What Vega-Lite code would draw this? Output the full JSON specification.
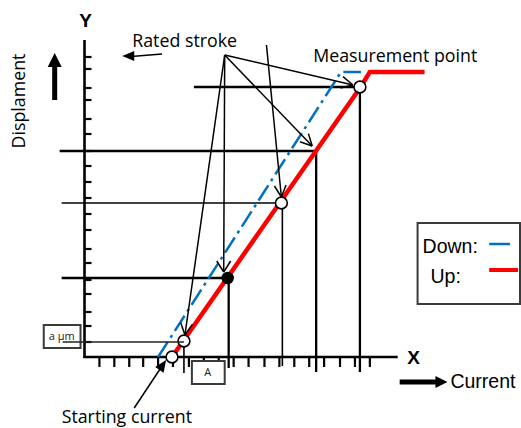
{
  "$schema": "https://vega.github.io/schema/vega-lite/v6.json",
  "width": 521,
  "height": 428,
  "autosize": {"type": "fit", "contains": "padding"},
  "padding": 0,
  "background": "white",
  "config": {"view": {"stroke": null}},
  "datasets": {
    "axes": [{"x": 85, "y": 40, "x2": 85, "y2": 358}, {"x": 84, "y": 357, "x2": 400, "y2": 357}],
    "yticks": [{"y": 57}, {"y": 69}, {"y": 88}, {"y": 100}, {"y": 119}, {"y": 134}, {"y": 151}, {"y": 166}, {"y": 182}, {"y": 198}, {"y": 214}, {"y": 230}, {"y": 249}, {"y": 263}, {"y": 280}, {"y": 294}, {"y": 312}, {"y": 326}, {"y": 342}],
    "xticks": [{"x": 100}, {"x": 115}, {"x": 130}, {"x": 144}, {"x": 159}, {"x": 174}, {"x": 190}, {"x": 205}, {"x": 220}, {"x": 235}, {"x": 250}, {"x": 266}, {"x": 281}, {"x": 296}, {"x": 311}, {"x": 326}, {"x": 342}, {"x": 357}, {"x": 372}],
    "guidesThick": [
      {"x": 195, "y": 87, "x2": 356, "y2": 87},
      {"x": 60, "y": 151, "x2": 318, "y2": 151},
      {"x": 62, "y": 278, "x2": 229, "y2": 278},
      {"x": 230, "y": 278, "x2": 230, "y2": 368},
      {"x": 318, "y": 151, "x2": 318, "y2": 372},
      {"x": 362, "y": 88, "x2": 362, "y2": 372}
    ],
    "guidesThin": [
      {"x": 62, "y": 203, "x2": 283, "y2": 203},
      {"x": 185, "y": 341, "x2": 185, "y2": 373},
      {"x": 284, "y": 203, "x2": 284, "y2": 366}
    ],
    "pointers": [
      {"x": 226, "y": 55, "x2": 186, "y2": 335}, {"x": 186, "y": 335, "x2": 193.5, "y2": 324.4}, {"x": 186, "y": 335, "x2": 181.8, "y2": 322.7},
      {"x": 226, "y": 55, "x2": 225, "y2": 272}, {"x": 225, "y": 272, "x2": 232, "y2": 261}, {"x": 225, "y": 272, "x2": 218, "y2": 261},
      {"x": 226, "y": 55, "x2": 314, "y2": 146}, {"x": 314, "y": 146, "x2": 310.2, "y2": 133.6}, {"x": 314, "y": 146, "x2": 301.7, "y2": 141.8},
      {"x": 226, "y": 55, "x2": 355, "y2": 85}, {"x": 355, "y": 85, "x2": 345, "y2": 76.6}, {"x": 355, "y": 85, "x2": 342.4, "y2": 88.1},
      {"x": 268, "y": 45, "x2": 283, "y2": 197}, {"x": 283, "y": 197, "x2": 287.7, "y2": 184.9}, {"x": 283, "y": 197, "x2": 276, "y2": 186},
      {"x": 163, "y": 54, "x2": 132, "y2": 56.5},
      {"x": 135, "y": 408, "x2": 163, "y2": 366}
    ],
    "shafts": [{"x": 55, "y": 100, "x2": 55, "y2": 64}, {"x": 402, "y": 382, "x2": 440, "y2": 382}],
    "up": [{"t": 0, "x": 173, "y": 357}, {"t": 1, "x": 362, "y": 88}, {"t": 2, "x": 372, "y": 72}, {"t": 3, "x": 427, "y": 72}],
    "down": [{"t": 0, "x": 159, "y": 357}, {"t": 1, "x": 343, "y": 72}, {"t": 2, "x": 363, "y": 72}],
    "openPts": [{"x": 362, "y": 87}, {"x": 283, "y": 203}, {"x": 185, "y": 341}, {"x": 173, "y": 357}],
    "filledPts": [{"x": 229, "y": 278}],
    "boxes": [{"x": 44, "y": 325, "x2": 81, "y2": 348}, {"x": 193, "y": 361, "x2": 226, "y2": 384}, {"x": 420, "y": 223, "x2": 523, "y2": 304}]
  },
  "layer": [
    {"data": {"name": "axes"}, "mark": {"type": "rule", "strokeWidth": 2.6, "color": "black"},
     "encoding": {"x": {"field": "x", "type": "quantitative", "scale": {"domain": [0, 521], "nice": false, "zero": false}, "axis": null},
                  "y": {"field": "y", "type": "quantitative", "scale": {"domain": [0, 428], "reverse": true, "nice": false, "zero": false}, "axis": null},
                  "x2": {"field": "x2"}, "y2": {"field": "y2"}}},
    {"data": {"name": "yticks"}, "mark": {"type": "rule", "strokeWidth": 2.2, "color": "black"},
     "encoding": {"x": {"datum": 85, "type": "quantitative"}, "x2": {"datum": 92}, "y": {"field": "y", "type": "quantitative"}}},
    {"data": {"name": "xticks"}, "mark": {"type": "rule", "strokeWidth": 2.2, "color": "black"},
     "encoding": {"x": {"field": "x", "type": "quantitative"}, "y": {"datum": 357, "type": "quantitative"}, "y2": {"datum": 367}}},
    {"data": {"name": "guidesThick"}, "mark": {"type": "rule", "strokeWidth": 2.3, "color": "black"},
     "encoding": {"x": {"field": "x", "type": "quantitative"}, "y": {"field": "y", "type": "quantitative"}, "x2": {"field": "x2"}, "y2": {"field": "y2"}}},
    {"data": {"name": "guidesThin"}, "mark": {"type": "rule", "strokeWidth": 1.6, "color": "black"},
     "encoding": {"x": {"field": "x", "type": "quantitative"}, "y": {"field": "y", "type": "quantitative"}, "x2": {"field": "x2"}, "y2": {"field": "y2"}}},
    {"data": {"name": "down"}, "mark": {"type": "line", "strokeWidth": 2.5, "color": "#0070c0", "strokeDash": [18, 5, 3, 5]},
     "encoding": {"x": {"field": "x", "type": "quantitative"}, "y": {"field": "y", "type": "quantitative"}, "order": {"field": "t"}}},
    {"data": {"name": "up"}, "mark": {"type": "line", "strokeWidth": 4.5, "color": "#ff0000"},
     "encoding": {"x": {"field": "x", "type": "quantitative"}, "y": {"field": "y", "type": "quantitative"}, "order": {"field": "t"}}},
    {"data": {"name": "pointers"}, "mark": {"type": "rule", "strokeWidth": 1.5, "color": "black"},
     "encoding": {"x": {"field": "x", "type": "quantitative"}, "y": {"field": "y", "type": "quantitative"}, "x2": {"field": "x2"}, "y2": {"field": "y2"}}},
    {"data": {"name": "shafts"}, "mark": {"type": "rule", "strokeWidth": 5, "color": "black"},
     "encoding": {"x": {"field": "x", "type": "quantitative"}, "y": {"field": "y", "type": "quantitative"}, "x2": {"field": "x2"}, "y2": {"field": "y2"}}},
    {"data": {"values": [{"x": 55, "y": 60}]}, "mark": {"type": "point", "shape": "M0,-1L-1,1L1,1Z", "size": 196, "filled": true, "color": "black", "opacity": 1},
     "encoding": {"x": {"field": "x", "type": "quantitative"}, "y": {"field": "y", "type": "quantitative"}}},
    {"data": {"values": [{"x": 444, "y": 382}]}, "mark": {"type": "point", "shape": "M1,0L-1,-1L-1,1Z", "size": 144, "filled": true, "color": "black", "opacity": 1},
     "encoding": {"x": {"field": "x", "type": "quantitative"}, "y": {"field": "y", "type": "quantitative"}}},
    {"data": {"values": [{"x": 129, "y": 56}]}, "mark": {"type": "point", "shape": "M-1,0L1,-0.85L1,0.85Z", "size": 144, "filled": true, "color": "black", "opacity": 1},
     "encoding": {"x": {"field": "x", "type": "quantitative"}, "y": {"field": "y", "type": "quantitative"}}},
    {"data": {"values": [{"x": 163.7, "y": 365}]}, "mark": {"type": "point", "shape": "M0,-1L-0.85,1L0.85,1Z", "size": 144, "angle": 34, "filled": true, "color": "black", "opacity": 1},
     "encoding": {"x": {"field": "x", "type": "quantitative"}, "y": {"field": "y", "type": "quantitative"}}},
    {"data": {"name": "openPts"}, "mark": {"type": "point", "shape": "circle", "size": 140, "filled": true, "fill": "white", "stroke": "black", "strokeWidth": 1.6, "opacity": 1},
     "encoding": {"x": {"field": "x", "type": "quantitative"}, "y": {"field": "y", "type": "quantitative"}}},
    {"data": {"name": "filledPts"}, "mark": {"type": "point", "shape": "circle", "size": 156, "filled": true, "color": "black", "opacity": 1},
     "encoding": {"x": {"field": "x", "type": "quantitative"}, "y": {"field": "y", "type": "quantitative"}}},
    {"data": {"name": "boxes"}, "mark": {"type": "rect", "fill": "white", "stroke": "#3a3a3a", "strokeWidth": 2},
     "encoding": {"x": {"field": "x", "type": "quantitative"}, "y": {"field": "y", "type": "quantitative"}, "x2": {"field": "x2"}, "y2": {"field": "y2"}}},
    {"data": {"values": [{"x": 63, "y": 342, "x2": 185, "y2": 342}]}, "mark": {"type": "rule", "strokeWidth": 1.4, "color": "#222"},
     "encoding": {"x": {"field": "x", "type": "quantitative"}, "y": {"field": "y", "type": "quantitative"}, "x2": {"field": "x2"}, "y2": {"field": "y2"}}},
    {"data": {"values": [{"x": 492, "y": 244, "x2": 513, "y2": 244}]}, "mark": {"type": "rule", "strokeWidth": 2.5, "color": "#0070c0"},
     "encoding": {"x": {"field": "x", "type": "quantitative"}, "y": {"field": "y", "type": "quantitative"}, "x2": {"field": "x2"}, "y2": {"field": "y2"}}},
    {"data": {"values": [{"x": 492, "y": 270, "x2": 521, "y2": 270}]}, "mark": {"type": "rule", "strokeWidth": 4, "color": "#ff0000"},
     "encoding": {"x": {"field": "x", "type": "quantitative"}, "y": {"field": "y", "type": "quantitative"}, "x2": {"field": "x2"}, "y2": {"field": "y2"}}},
    {"data": {"values": [{"x": 62, "y": 337, "label": "a µm"}, {"x": 209, "y": 373, "label": "A"}]},
     "mark": {"type": "text", "font": "Open Sans", "fontSize": 11, "align": "center", "baseline": "middle", "color": "#222"},
     "encoding": {"x": {"field": "x", "type": "quantitative"}, "y": {"field": "y", "type": "quantitative"}, "text": {"field": "label"}}},
    {"data": {"values": [{"x": 86, "y": 21, "label": "Y"}, {"x": 416, "y": 358, "label": "X"}]},
     "mark": {"type": "text", "font": "Liberation Sans", "fontSize": 19, "fontWeight": "bold", "align": "center", "baseline": "middle", "color": "black"},
     "encoding": {"x": {"field": "x", "type": "quantitative"}, "y": {"field": "y", "type": "quantitative"}, "text": {"field": "label"}}},
    {"data": {"values": [{"x": 133, "y": 42, "label": "Rated stroke"}, {"x": 315, "y": 57, "label": "Measurement point"}, {"x": 62, "y": 418, "label": "Starting current"}]},
     "mark": {"type": "text", "font": "Open Sans", "fontSize": 17.8, "align": "left", "baseline": "middle", "color": "black"},
     "encoding": {"x": {"field": "x", "type": "quantitative"}, "y": {"field": "y", "type": "quantitative"}, "text": {"field": "label"}}},
    {"data": {"values": [{"x": 20, "y": 101, "label": "Displament"}]},
     "mark": {"type": "text", "font": "Open Sans", "fontSize": 17.8, "angle": 270, "align": "center", "baseline": "middle", "color": "black"},
     "encoding": {"x": {"field": "x", "type": "quantitative"}, "y": {"field": "y", "type": "quantitative"}, "text": {"field": "label"}}},
    {"data": {"values": [{"x": 425, "y": 247, "label": "Down:"}, {"x": 433, "y": 277, "label": "Up:"}, {"x": 453, "y": 382, "label": "Current"}]},
     "mark": {"type": "text", "font": "Liberation Sans", "fontSize": 19.5, "align": "left", "baseline": "middle", "color": "black"},
     "encoding": {"x": {"field": "x", "type": "quantitative"}, "y": {"field": "y", "type": "quantitative"}, "text": {"field": "label"}}}
  ]
}
